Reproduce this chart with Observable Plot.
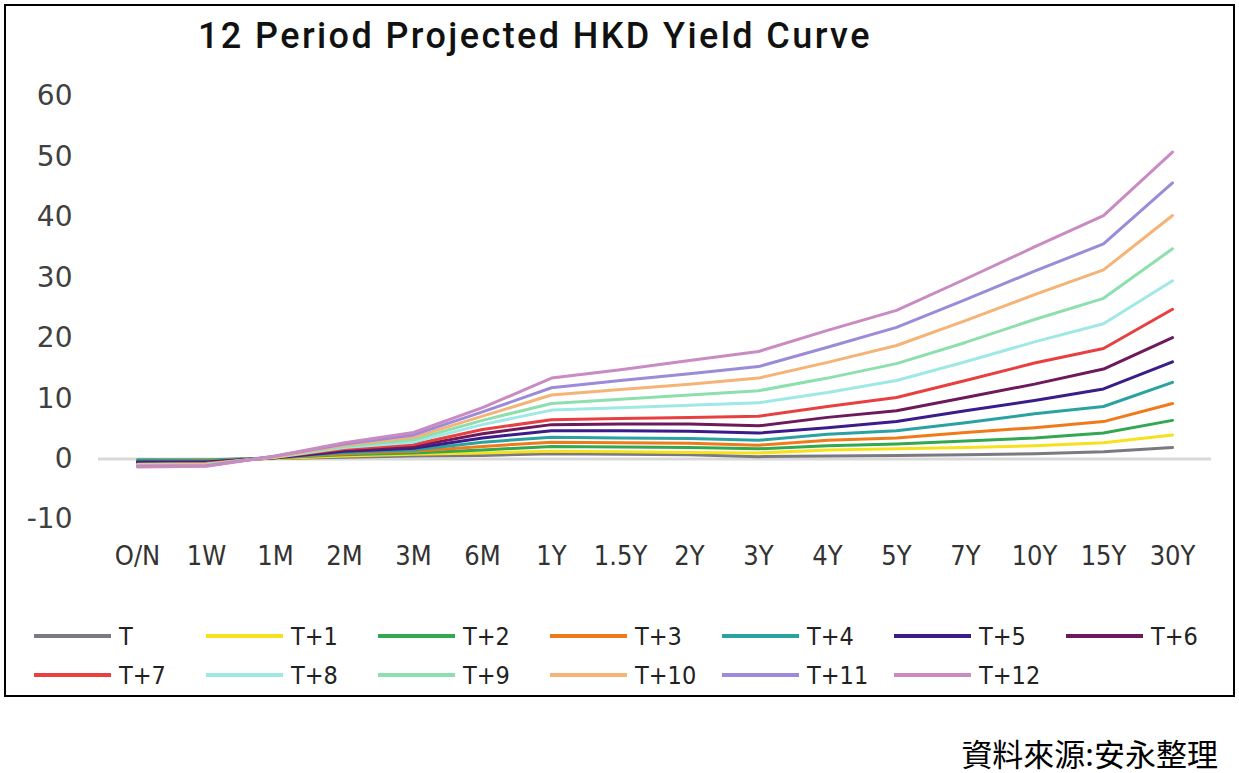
<!DOCTYPE html>
<html><head><meta charset="utf-8">
<script src="https://cdn.jsdelivr.net/npm/d3@7"></script>
<script src="https://cdn.jsdelivr.net/npm/@observablehq/plot@0.6"></script>
<style>
body{margin:0;background:#fff;width:1239px;height:773px;overflow:hidden;position:relative;font-family:"DejaVu Sans",sans-serif}
#box{position:absolute;left:4px;top:4px;width:1227px;height:689px;border:2px solid #000;}
#title{position:absolute;left:198px;top:15px;font:500 36px Roboto,sans-serif;letter-spacing:2.4px;color:#111;white-space:nowrap}
#chart{position:absolute;left:0;top:70px}
#legend{position:absolute;left:0;top:0}
.item{position:absolute;display:flex;align-items:center;height:30px;font:25px "DejaVu Sans Condensed","DejaVu Sans",sans-serif;color:#222;white-space:nowrap}
.item span.sw{display:inline-block;width:77px;height:4px;margin-right:8px}
#source{position:absolute;right:21px;top:730px;font:31px "Noto Sans CJK TC",sans-serif;color:#000}
</style></head>
<body>
<div id="box"></div>
<div id="title">12 Period Projected HKD Yield Curve</div>
<div id="chart"></div>
<div id="legend"></div>
<div id="source">資料來源:安永整理</div>
<script>
const tenors = ["O/N","1W","1M","2M","3M","6M","1Y","1.5Y","2Y","3Y","4Y","5Y","7Y","10Y","15Y","30Y"];
const seriesNames = ["T","T+1","T+2","T+3","T+4","T+5","T+6","T+7","T+8","T+9","T+10","T+11","T+12"];
const seriesColors = ["#7a7a80","#f7e11c","#33a852","#f07a1a","#2aa3a0","#3b1d8a","#6d1a5c","#e84040","#9ee8e6","#8ddfae","#f5b376","#9b8bd8","#c98bc2"];

const T   = [-0.1,-0.1,0.1,0.3,0.5,0.6,0.9,0.8,0.7,0.4,0.5,0.6,0.7,0.9,1.2,1.9];
const T1  = [-0.2,-0.2,0.1,0.5,0.8,1.0,1.3,1.2,1.1,1.0,1.5,1.7,1.9,2.2,2.7,4.0];
const T2  = [-0.2,-0.2,0.2,0.7,1.0,1.5,2.1,2.0,1.9,1.7,2.2,2.5,3.0,3.5,4.3,6.4];
const T3  = [-0.3,-0.3,0.2,0.9,1.3,2.1,2.8,2.7,2.6,2.3,3.1,3.5,4.4,5.2,6.2,9.2];
const T4  = [-0.2,-0.3,0.2,1.1,1.5,2.8,3.6,3.5,3.4,3.1,4.1,4.7,6.0,7.5,8.7,12.7];
const T5  = [-0.5,-0.5,0.2,1.3,1.8,3.5,4.7,4.7,4.6,4.3,5.2,6.2,8.0,9.7,11.6,16.1];
const T6  = [-0.6,-0.6,0.3,1.5,2.1,4.2,5.7,5.8,5.8,5.5,6.9,8.0,10.2,12.4,14.9,20.1];
const T7  = [-0.8,-0.7,0.3,1.7,2.4,4.9,6.5,6.7,6.9,7.1,8.7,10.2,13.0,15.9,18.3,24.8];
const T8  = [-0.9,-0.8,0.3,1.9,2.8,5.7,8.1,8.5,8.9,9.3,11.0,13.0,16.1,19.4,22.4,29.5];
const T9  = [-1.0,-0.9,0.4,2.1,3.2,6.4,9.2,9.9,10.6,11.3,13.4,15.8,19.3,23.1,26.6,34.8];
const T10 = [-1.1,-1.0,0.4,2.3,3.6,7.1,10.6,11.5,12.4,13.4,16.0,18.8,22.9,27.2,31.3,40.3];
const T11 = [-1.2,-1.1,0.5,2.5,4.0,7.8,11.8,13.0,14.1,15.3,18.5,21.8,26.4,31.1,35.6,45.7];
const T12 = [-1.3,-1.2,0.5,2.7,4.4,8.5,13.4,14.8,16.3,17.8,21.3,24.6,29.8,35.1,40.3,50.8];
const seriesValues = [T,T1,T2,T3,T4,T5,T6,T7,T8,T9,T10,T11,T12];
const yTicks = [-10,0,10,20,30,40,50,60];

const rows = [];
seriesNames.forEach((s,i)=>tenors.forEach((t,j)=>rows.push({series:s, tenor:t, value:seriesValues[i][j]})));

const chart = Plot.plot({
  width:1239, height:520,
  marginLeft:98, marginRight:28, marginTop:26, marginBottom:71,
  x:{type:"point", domain:tenors, padding:0.5},
  y:{domain:[-10,60]},
  color:{domain:seriesNames, range:seriesColors},
  marks:[
    Plot.ruleY([0],{stroke:"#d9d9d9", strokeWidth:3}),
    Plot.line(rows,{x:"tenor", y:"value", z:"series", stroke:"series", strokeWidth:3}),
    Plot.axisX({tickSize:0, tickPadding:26, label:null, fontSize:27, fontFamily:"'DejaVu Sans Condensed','DejaVu Sans',sans-serif", fill:"#333"}),
    Plot.axisY({ticks:yTicks, tickFormat:d=>String(d), tickSize:0, tickPadding:26, label:null, fontSize:28, fontFamily:"'DejaVu Sans',sans-serif", fill:"#404040"})
  ]
});
document.getElementById("chart").appendChild(chart);

const legend = document.getElementById("legend");
seriesNames.forEach((s,i)=>{
  const row = i < 7 ? 0 : 1, col = i < 7 ? i : i-7;
  const d = document.createElement("div");
  d.className = "item";
  d.style.left = (34 + col*172) + "px";
  d.style.top = (621 + row*39) + "px";
  d.innerHTML = `<span class="sw" style="background:${seriesColors[i]}"></span>${s}`;
  legend.appendChild(d);
});
</script>
</body></html>
